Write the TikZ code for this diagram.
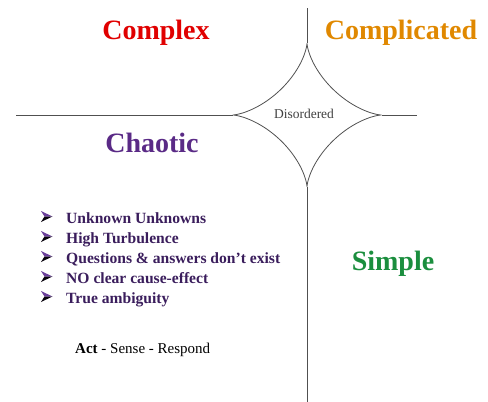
\documentclass[tikz,border=0pt]{standalone}
\usepackage{fontspec}
\setmainfont{Liberation Serif}
\definecolor{cxred}{HTML}{E00000}
\definecolor{cporange}{HTML}{E08800}
\definecolor{chpurple}{HTML}{5A2A86}
\definecolor{spgreen}{HTML}{1B8E3E}
\definecolor{bltext}{HTML}{3A1D5C}
\definecolor{bulletlight}{HTML}{6A3E9A}
\definecolor{linegray}{HTML}{505050}
\tikzset{
  title/.style={font=\fontsize{28}{30}\selectfont\bfseries, anchor=base, inner sep=0pt},
  bullettext/.style={font=\fontsize{15.6}{18}\selectfont\bfseries, text=bltext, anchor=base west, inner sep=0pt},
  axis/.style={draw=linegray, line width=0.9pt},
}
\begin{document}
\begin{tikzpicture}[x=1pt,y=-1pt]
\useasboundingbox (0,0) rectangle (488,402);
% cusps of the disordered region
\coordinate (top) at (307,43);
\coordinate (bot) at (307,187);
\coordinate (lft) at (233,115);
\coordinate (rgt) at (382,115);
\coordinate (vtop) at (307,8);
\coordinate (vbot) at (307,402);
\coordinate (hl) at (16,115);
\coordinate (hr) at (417,115);
\draw[axis] (vtop) -- (top);
\draw[axis] (bot) -- (vbot);
\draw[axis] (hl) -- (lft);
\draw[axis] (rgt) -- (hr);
\draw[draw=linegray, line width=0.8pt] plot[domain=0:360, samples=240, variable=\t]
  ({307+74.5*cos(\t)^3}, {115+72*sin(\t)^3}) -- cycle;
\node[font=\fontsize{13.5}{15}\selectfont, text=black!75, anchor=base, inner sep=0pt] (dis) at (304,118) {Disordered};
\node[title, text=cxred] (complex) at (156,39) {Complex};
\node[title, text=cporange] (complicated) at (401,39) {Complicated};
\node[title, text=chpurple] (chaotic) at (152,152) {Chaotic};
\node[title, text=spgreen] (simple) at (393,270) {Simple};
\foreach \y/\txt [count=\i] in {223/Unknown Unknowns, 243/High Turbulence, 263/Questions \& answers don’t exist, 283/NO clear cause-effect, 303/True ambiguity}{
  \coordinate (b\i) at (41,\y-6.5);
  \fill[bulletlight] (b\i) ++(0,-5.5) -- ++(11.5,5.5) -- ++(-8,0) -- cycle;
  \fill[black!85!bltext] (b\i) ++(0,5.5) -- ++(11.5,-5.5) -- ++(-8,0) -- cycle;
  \node[bullettext] (t\i) at (66,\y) {\txt};
}
\node[font=\fontsize{15}{17}\selectfont, text=black, anchor=base west, inner sep=0pt] (asr) at (75,353) {\textbf{Act} - Sense - Respond};
\end{tikzpicture}
\end{document}
